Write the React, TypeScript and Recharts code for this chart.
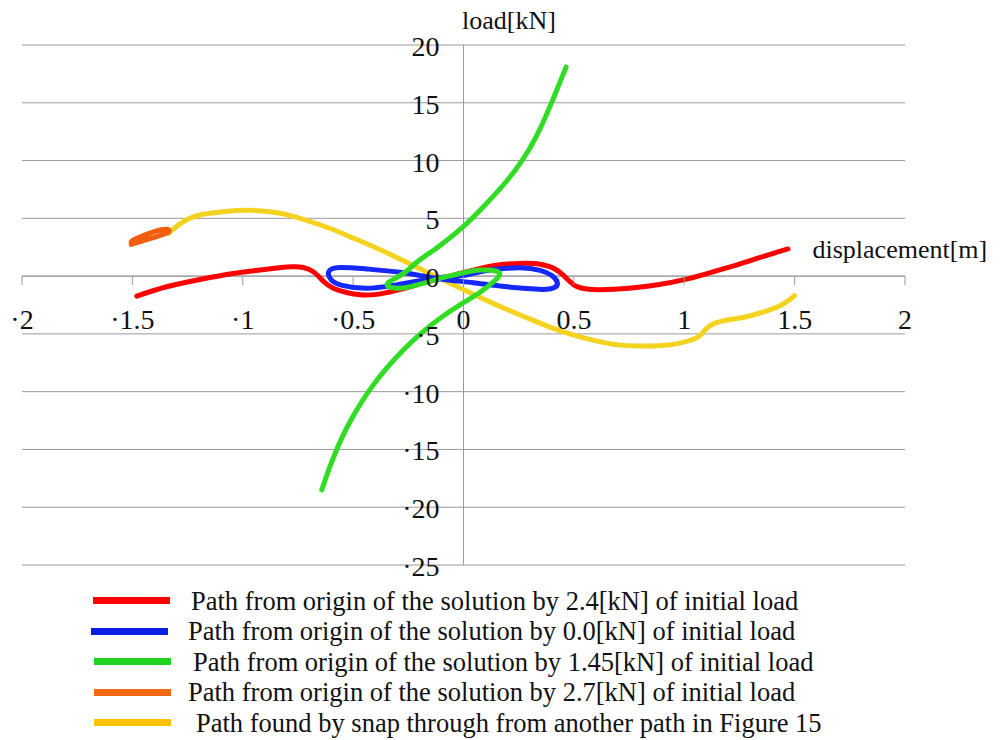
import React from 'react';
import { ComposedChart, Line, XAxis, YAxis, CartesianGrid, ReferenceLine, Label } from 'recharts';

// ---- data (displacement [m], load [kN]) ----
const xTicks = [-2, -1.5, -1, -0.5, 0, 0.5, 1, 1.5, 2];
const yTicks = [-25, -20, -15, -10, -5, 0, 5, 10, 15, 20];

const red24 = [
  { x: -1.48, y: -1.73 }, { x: -1.345, y: -0.92 }, { x: -1.194, y: -0.29 }, { x: -1.043, y: 0.23 },
  { x: -0.892, y: 0.6 }, { x: -0.78, y: 0.8 }, { x: -0.726, y: 0.75 }, { x: -0.68, y: 0.37 },
  { x: -0.635, y: -0.45 }, { x: -0.59, y: -1.05 }, { x: -0.53, y: -1.42 }, { x: -0.469, y: -1.62 },
  { x: -0.393, y: -1.58 }, { x: -0.318, y: -1.3 }, { x: -0.242, y: -0.92 }, { x: -0.137, y: -0.35 },
  { x: 0, y: 0.3 }, { x: 0.135, y: 0.9 }, { x: 0.256, y: 1.1 }, { x: 0.347, y: 1.02 },
  { x: 0.42, y: 0.55 }, { x: 0.467, y: -0.2 }, { x: 0.513, y: -0.9 }, { x: 0.558, y: -1.12 },
  { x: 0.618, y: -1.17 }, { x: 0.75, y: -1.05 }, { x: 0.88, y: -0.75 }, { x: 1.0, y: -0.3 },
  { x: 1.1, y: 0.2 }, { x: 1.2, y: 0.75 }, { x: 1.3, y: 1.35 }, { x: 1.4, y: 1.95 }, { x: 1.47, y: 2.35 },
];

const blue00 = [
  { x: 0, y: 0.05 }, { x: 0.08, y: 0.4 }, { x: 0.15, y: 0.6 }, { x: 0.256, y: 0.72 }, { x: 0.347, y: 0.5 },
  { x: 0.4, y: 0.05 }, { x: 0.425, y: -0.55 }, { x: 0.41, y: -1.0 }, { x: 0.36, y: -1.15 },
  { x: 0.286, y: -1.08 }, { x: 0.165, y: -0.86 }, { x: 0.044, y: -0.57 }, { x: -0.06, y: -0.35 },
  { x: -0.167, y: -0.05 }, { x: -0.288, y: 0.33 }, { x: -0.44, y: 0.62 }, { x: -0.56, y: 0.75 },
  { x: -0.61, y: 0.4 }, { x: -0.6, y: -0.3 }, { x: -0.55, y: -0.8 }, { x: -0.44, y: -1.05 },
  { x: -0.318, y: -0.8 }, { x: -0.212, y: -0.45 }, { x: -0.1, y: -0.12 }, { x: 0, y: 0.05 },
];

const green145 = [
  { x: -0.642, y: -18.5 }, { x: -0.615, y: -17.0 }, { x: -0.585, y: -15.5 }, { x: -0.551, y: -14.0 },
  { x: -0.511, y: -12.5 }, { x: -0.465, y: -11.0 }, { x: -0.412, y: -9.5 }, { x: -0.35, y: -8.0 },
  { x: -0.278, y: -6.5 }, { x: -0.195, y: -5.0 }, { x: -0.095, y: -3.5 }, { x: 0.0, y: -2.3 },
  { x: 0.075, y: -1.4 }, { x: 0.135, y: -0.5 }, { x: 0.162, y: 0.05 }, { x: 0.15, y: 0.42 },
  { x: 0.075, y: 0.52 }, { x: -0.016, y: 0.22 }, { x: -0.1, y: -0.15 }, { x: -0.167, y: -0.55 },
  { x: -0.25, y: -0.95 }, { x: -0.3, y: -1.05 }, { x: -0.34, y: -0.9 }, { x: -0.34, y: -0.55 },
  { x: -0.3, y: -0.1 }, { x: -0.25, y: 0.55 }, { x: -0.212, y: 1.2 }, { x: -0.15, y: 2.05 },
  { x: -0.106, y: 2.65 }, { x: 0, y: 4.3 }, { x: 0.1, y: 6.2 }, { x: 0.19, y: 8.1 }, { x: 0.265, y: 10.0 },
  { x: 0.33, y: 12.1 }, { x: 0.39, y: 14.6 }, { x: 0.435, y: 16.7 }, { x: 0.465, y: 18.1 },
];

const orange27 = [
  { x: -1.505, y: 2.75 }, { x: -1.46, y: 3.0 }, { x: -1.41, y: 3.3 }, { x: -1.36, y: 3.62 },
  { x: -1.335, y: 3.85 }, { x: -1.345, y: 4.05 }, { x: -1.4, y: 3.85 }, { x: -1.45, y: 3.5 },
  { x: -1.49, y: 3.2 }, { x: -1.505, y: 2.95 },
];

const yellowSnap = [
  { x: -1.337, y: 3.7 }, { x: -1.29, y: 4.45 }, { x: -1.24, y: 5.0 }, { x: -1.18, y: 5.35 },
  { x: -1.08, y: 5.6 }, { x: -0.97, y: 5.7 }, { x: -0.85, y: 5.5 }, { x: -0.74, y: 5.0 },
  { x: -0.6, y: 4.1 }, { x: -0.5, y: 3.3 }, { x: -0.42, y: 2.65 }, { x: -0.29, y: 1.5 },
  { x: -0.14, y: 0.1 }, { x: -0.06, y: -0.62 }, { x: 0.03, y: -1.45 }, { x: 0.15, y: -2.5 },
  { x: 0.3, y: -3.7 }, { x: 0.41, y: -4.55 }, { x: 0.5, y: -5.1 }, { x: 0.6, y: -5.6 },
  { x: 0.7, y: -5.95 }, { x: 0.8, y: -6.05 }, { x: 0.9, y: -6.0 }, { x: 0.98, y: -5.8 },
  { x: 1.05, y: -5.4 }, { x: 1.08, y: -5.0 }, { x: 1.1, y: -4.55 }, { x: 1.13, y: -4.15 },
  { x: 1.18, y: -3.85 }, { x: 1.26, y: -3.6 }, { x: 1.36, y: -3.1 }, { x: 1.44, y: -2.5 },
  { x: 1.5, y: -1.7 },
];

const legendNames = [
  'Path from origin of the solution by 2.4[kN] of initial load',
  'Path from origin of the solution by 0.0[kN] of initial load',
  'Path from origin of the solution by 1.45[kN] of initial load',
  'Path from origin of the solution by 2.7[kN] of initial load',
  'Path found by snap through from another path in Figure 15',
];
const xTitle = 'displacement[m]';
const yTitle = 'load[kN]';

// ---- layout / style (chart coordinates == page coordinates) ----
const W = 1000;
const H = 600;
const AX = 1; // axis band size (x-axis height / y-axis width)
const M = { top: 45, right: 95, left: 22 - AX, bottom: 35 - AX };
const PLEFT = M.left + AX;
const PW = W - PLEFT - M.right;
const PH = H - M.top - M.bottom - AX;
const X0 = PLEFT + PW / 2;
const Y0 = M.top + (PH * 20) / 45;
const GRID = '#9a9a9a';
const SERIF = '"Liberation Serif", "Times New Roman", serif';
const legendLine = ['#ff0000', '#0a1ee6', '#1ed21e', '#f26914', '#ffc000'];
const legendLineX = [93, 91, 94, 94, 94];
const legendTextX = [191, 188, 193, 188, 196];

const fmt = (v: number) => (v < 0 ? '\u00b7' + String(Math.abs(v)) : String(v));

const XTick = (props: any) => {
  const { x, payload } = props;
  return (
    <g>
      <line x1={x} x2={x} y1={Y0} y2={Y0 + 9} stroke={GRID} strokeWidth={1} />
      <text x={x} y={Y0 + 53} textAnchor="middle" fontFamily={SERIF} fontSize={28} fill="#111">
        {fmt(payload.value)}
      </text>
    </g>
  );
};

const YTick = (props: any) => {
  const { y, payload } = props;
  return (
    <text x={X0 - 24} y={y + 11} textAnchor="end" fontFamily={SERIF} fontSize={28} fill="#111">
      {fmt(payload.value)}
    </text>
  );
};

export default function App() {
  return (
    <div style={{ position: 'relative', width: W, height: 740, margin: '-8px 0 0 -8px', background: '#fff' }}>
      <ComposedChart width={W} height={H} margin={M}>
        <CartesianGrid vertical={false} stroke={GRID} strokeWidth={1} />
        <XAxis
          type="number"
          dataKey="x"
          domain={[-2, 2]}
          ticks={xTicks}
          interval={0}
          allowDataOverflow
          axisLine={false}
          tickLine={false}
          height={AX}
          tick={(p: any) => <XTick {...p} />}
        >
          <Label
            content={() => (
              <text x={812.5} y={258} fontFamily={SERIF} fontSize={26} fill="#111">
                {xTitle}
              </text>
            )}
          />
        </XAxis>
        <YAxis
          type="number"
          dataKey="y"
          domain={[-25, 20]}
          ticks={yTicks}
          interval={0}
          allowDataOverflow
          axisLine={false}
          tickLine={false}
          width={AX}
          tick={(p: any) => <YTick {...p} />}
        >
          <Label
            content={() => (
              <text x={462} y={29} fontFamily={SERIF} fontSize={26} fill="#111">
                {yTitle}
              </text>
            )}
          />
        </YAxis>
        <ReferenceLine y={0} stroke={GRID} strokeWidth={1} />
        <ReferenceLine x={0} stroke={GRID} strokeWidth={1} />
        <Line data={yellowSnap} dataKey="y" type="natural" stroke="#f3d31f" strokeWidth={5} dot={false} isAnimationActive={false} strokeLinecap="round" strokeLinejoin="round" />
        <Line data={red24} dataKey="y" type="natural" stroke="#ff0000" strokeWidth={5} dot={false} isAnimationActive={false} strokeLinecap="round" strokeLinejoin="round" />
        <Line data={blue00} dataKey="y" type="natural" stroke="#1428ff" strokeWidth={5} dot={false} isAnimationActive={false} strokeLinecap="round" strokeLinejoin="round" />
        <Line data={green145} dataKey="y" type="natural" stroke="#30dc24" strokeWidth={5} dot={false} isAnimationActive={false} strokeLinecap="round" strokeLinejoin="round" />
        <Line data={orange27} dataKey="y" type="natural" stroke="#f55d0e" strokeWidth={5} dot={false} isAnimationActive={false} strokeLinecap="round" strokeLinejoin="round" />
      </ComposedChart>
      {legendNames.map((name, i) => {
        const cy = 600.5 + 30.6 * i;
        return (
          <div key={name}>
            <div
              style={{
                position: 'absolute',
                left: legendLineX[i],
                top: cy - 3.5,
                width: 77,
                height: 7,
                background: legendLine[i],
              }}
            />
            <div
              style={{
                position: 'absolute',
                left: legendTextX[i],
                top: cy - 16,
                height: 32,
                lineHeight: '32px',
                fontFamily: SERIF,
                fontSize: 26.5,
                color: '#111',
                whiteSpace: 'nowrap',
              }}
            >
              {name}
            </div>
          </div>
        );
      })}
    </div>
  );
}
